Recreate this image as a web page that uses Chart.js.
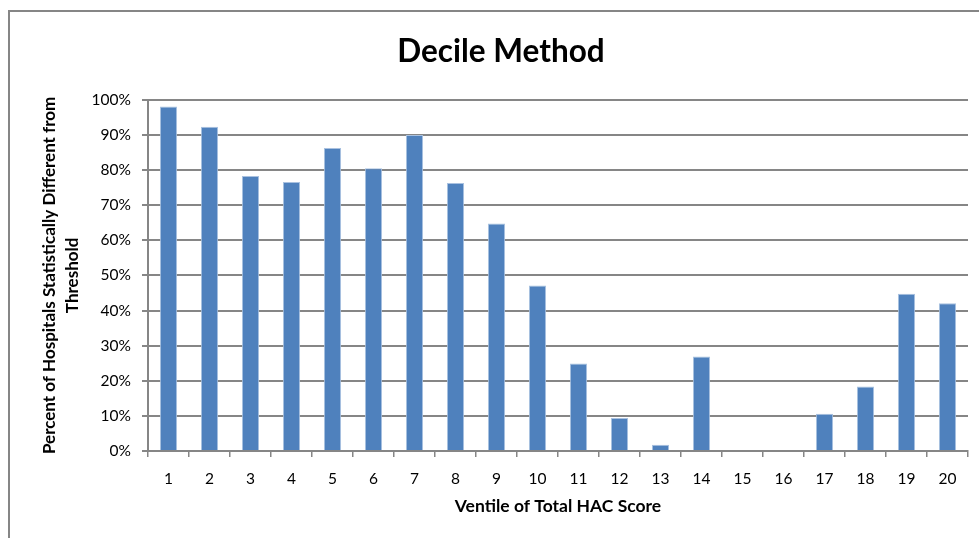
<!DOCTYPE html>
<html>
<head>
<meta charset="utf-8">
<script src="https://cdn.jsdelivr.net/npm/chart.js@4"></script>
<style>
  html, body { margin: 0; padding: 0; background: #fff; }
  #wrap { width: 979px; height: 538px; position: relative; }
</style>
</head>
<body>
<div id="wrap"><canvas id="myChart" width="979" height="538"></canvas></div>
<script>
// datos
var ventiles = ["1","2","3","4","5","6","7","8","9","10","11","12","13","14","15","16","17","18","19","20"];
var percentDiff = [98.1, 92.3, 78.3, 76.6, 86.3, 80.5, 90, 76.3, 64.8, 47.1, 24.9, 9.4, 1.8, 26.9, 0, 0, 10.6, 18.4, 44.8, 42.1];
var yTicks = [0,10,20,30,40,50,60,70,80,90,100];

var gray = "#868686";

// marco gris arriba e izquierda
var framePlugin = {
  id: "frame",
  beforeDraw: function(chart){
    var ctx = chart.ctx;
    ctx.save();
    ctx.fillStyle = "#fff";
    ctx.fillRect(0,0,chart.width,chart.height);
    ctx.strokeStyle = gray;
    ctx.lineWidth = 2;
    ctx.beginPath();
    ctx.moveTo(9, chart.height);
    ctx.lineTo(9, 11);
    ctx.lineTo(chart.width, 11);
    ctx.stroke();
    ctx.restore();
  }
};

var ctx = document.getElementById("myChart").getContext("2d");
var myChart = new Chart(ctx, {
  type: "bar",
  data: {
    labels: ventiles,
    datasets: [{
      data: percentDiff,
      backgroundColor: "#4F81BD",
      borderColor: "#A9C1E0",
      borderWidth: {left:1, right:1, top:1, bottom:0},
      barPercentage: 0.42,
      categoryPercentage: 1
    }]
  },
  options: {
    responsive: false,
    animation: false,
    layout: { padding: { left: 34, right: 11, top: 0, bottom: 0 } },
    plugins: {
      legend: { display: false },
      tooltip: { enabled: false },
      title: {
        display: true,
        text: "Decile Method",
        color: "#000",
        font: { family: "Lato", size: 31.5, weight: "bold", lineHeight: 1.2 },
        padding: { top: 33, bottom: 29 }
      }
    },
    scales: {
      x: {
        grid: { display: true, drawOnChartArea: false, drawTicks: true, tickLength: 6, color: gray, lineWidth: 1.5, offset: true },
        border: { display: true, color: gray, width: 2 },
        ticks: { color: "#000", font: { family: "Lato", size: 15.5 }, padding: 13, maxRotation: 0, autoSkip: false },
        title: {
          display: true,
          text: "Ventile of Total HAC Score",
          color: "#000",
          font: { family: "Lato", size: 17.5, weight: "bold" },
          padding: { top: 0, bottom: 21 }
        },
        afterFit: function(scale){ scale.height = 87; }
      },
      y: {
        min: 0,
        max: 100,
        afterBuildTicks: function(scale){
          scale.ticks = yTicks.map(function(v){ return {value: v}; });
        },
        grid: { color: gray, lineWidth: 2, drawTicks: true, tickLength: 6 },
        border: { display: true, color: gray, width: 2 },
        ticks: {
          color: "#000",
          font: { family: "Lato", size: 15.5 },
          padding: 11,
          callback: function(v){ return v + "%"; }
        },
        title: {
          display: true,
          text: ["Percent of Hospitals Statistically Different from", "Threshold"],
          color: "#000",
          font: { family: "Lato", size: 17, weight: "bold", lineHeight: 1.35 },
          padding: { top: 4, bottom: 0 }
        },
        afterFit: function(scale){ scale.width = 114; }
      }
    }
  },
  plugins: [framePlugin]
});
</script>
</body>
</html>
